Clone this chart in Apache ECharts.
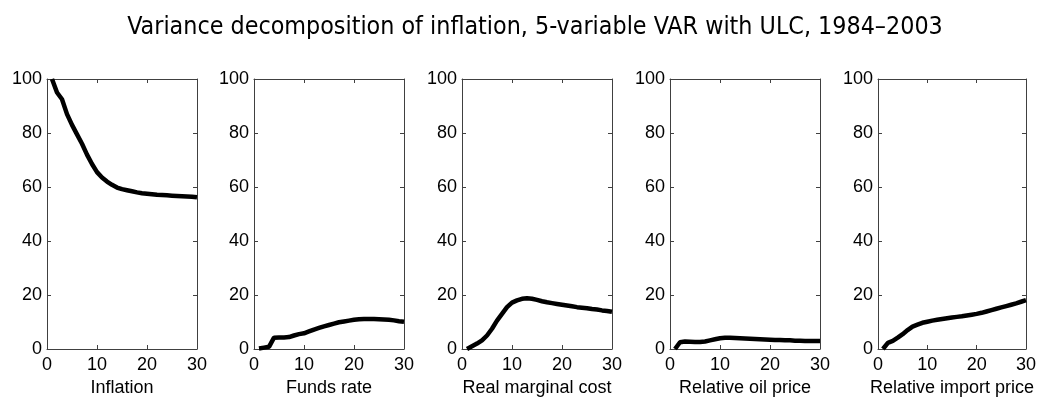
<!DOCTYPE html>
<html>
<head>
<meta charset="utf-8">
<script src="https://cdn.jsdelivr.net/npm/echarts@6/dist/echarts.min.js"></script>
<style>
  html, body { margin: 0; padding: 0; background: #fff; }
  #main { width: 1039px; height: 410px; }
</style>
</head>
<body>
<div id="main"></div>
<script>
// forecast horizons (quarters)
const horizons = [1,2,3,4,5,6,7,8,9,10,11,12,13,14,15,16,17,18,19,20,21,22,23,24,25,26,27,28,29,30];

const panelNames = ["Inflation", "Funds rate", "Real marginal cost", "Relative oil price", "Relative import price"];

// share of inflation forecast error variance (%)
const inflation = [100,95,92.5,87,83,79.5,76,72,68.5,65.5,63.5,62,60.8,59.8,59.2,58.8,58.4,58,57.7,57.5,57.3,57.1,57,56.9,56.8,56.7,56.6,56.5,56.4,56.2];
const fundsRate = [0.2,0.5,0.8,4.2,4.3,4.3,4.4,5,5.5,5.8,6.5,7.2,7.8,8.4,8.9,9.4,9.9,10.2,10.5,10.8,11,11.1,11.1,11.1,11,10.9,10.8,10.6,10.3,10.1];
const realMarginalCost = [0,1,2,3.2,5,7.5,10.5,13,15.5,17.2,18,18.6,18.8,18.6,18.2,17.7,17.3,17,16.7,16.4,16.1,15.8,15.5,15.3,15.1,14.8,14.6,14.3,14.1,13.8];
const oilPrice = [0,2.5,2.8,2.7,2.6,2.6,2.8,3.2,3.6,4,4.2,4.2,4.1,4,3.9,3.8,3.7,3.6,3.5,3.4,3.3,3.3,3.2,3.2,3.1,3.1,3,3,3,3];
const importPrice = [0,2.3,3,4.2,5.5,7,8.3,9,9.7,10.1,10.5,10.8,11.1,11.4,11.7,11.9,12.1,12.4,12.7,13,13.4,13.9,14.4,14.9,15.4,15.9,16.4,16.9,17.5,18.1];

const xTicks = [0, 10, 20, 30];
const yTicks = [0, 20, 40, 60, 80, 100];

const allSeries = [inflation, fundsRate, realMarginalCost, oilPrice, importPrice];

const chart = echarts.init(document.getElementById("main"));

const lefts = [47, 254, 462, 670, 878];
const axisColor = "#404040";
const font = "'Liberation Sans', Arial, sans-serif";

const grid = [], xAxis = [], yAxis = [], series = [];

allSeries.forEach(function (vals, i) {
  grid.push({ left: lefts[i], top: 79, width: 150, height: 270 });
  // bottom x axis
  xAxis.push({
    gridIndex: i, type: "value", position: "bottom",
    min: xTicks[0], max: xTicks[xTicks.length - 1], interval: 10,
    name: panelNames[i], nameLocation: "middle", nameGap: 28,
    nameTextStyle: { color: "#000", fontSize: 18, fontFamily: font },
    axisLine: { onZero: false, lineStyle: { color: axisColor, width: 1 } },
    axisTick: { inside: true, length: 4, lineStyle: { color: axisColor } },
    axisLabel: { color: "#000", fontSize: 18, fontFamily: font, margin: 7 },
    splitLine: { show: false }
  });
  // top x axis (box)
  xAxis.push({
    gridIndex: i, type: "value", position: "top",
    min: xTicks[0], max: xTicks[xTicks.length - 1], interval: 10,
    axisLine: { onZero: false, lineStyle: { color: axisColor, width: 1 } },
    axisTick: { inside: true, length: 4, lineStyle: { color: axisColor } },
    axisLabel: { show: false },
    splitLine: { show: false }
  });
  // left y axis
  yAxis.push({
    gridIndex: i, type: "value", position: "left",
    min: yTicks[0], max: yTicks[yTicks.length - 1], interval: 20,
    axisLine: { show: true, onZero: false, lineStyle: { color: axisColor, width: 1 } },
    axisTick: { show: true, inside: true, length: 4, lineStyle: { color: axisColor } },
    axisLabel: { color: "#000", fontSize: 18, fontFamily: font, margin: 5 },
    splitLine: { show: false }
  });
  // right y axis (box)
  yAxis.push({
    gridIndex: i, type: "value", position: "right",
    min: yTicks[0], max: yTicks[yTicks.length - 1], interval: 20,
    axisLine: { show: true, onZero: false, lineStyle: { color: axisColor, width: 1 } },
    axisTick: { show: true, inside: true, length: 4, lineStyle: { color: axisColor } },
    axisLabel: { show: false },
    splitLine: { show: false }
  });
  series.push({
    type: "line",
    xAxisIndex: i * 2,
    yAxisIndex: i * 2,
    data: horizons.map(function (h, k) { return [h, vals[k]]; }),
    showSymbol: false,
    lineStyle: { color: "#000", width: 4.5 },
    animation: false
  });
});

chart.setOption({
  backgroundColor: "#fff",
  animation: false,
  title: {
    text: "Variance decomposition of inflation, 5-variable VAR with ULC, 1984\u20132003",
    left: 530, top: 10, textAlign: "center",
    textStyle: {
      color: "#000", fontSize: 24.8, fontWeight: "normal",
      fontFamily: "'Liberation Sans Narrow', 'DejaVu Sans Condensed', sans-serif"
    }
  },
  grid: grid,
  xAxis: xAxis,
  yAxis: yAxis,
  series: series
});
</script>
</body>
</html>
